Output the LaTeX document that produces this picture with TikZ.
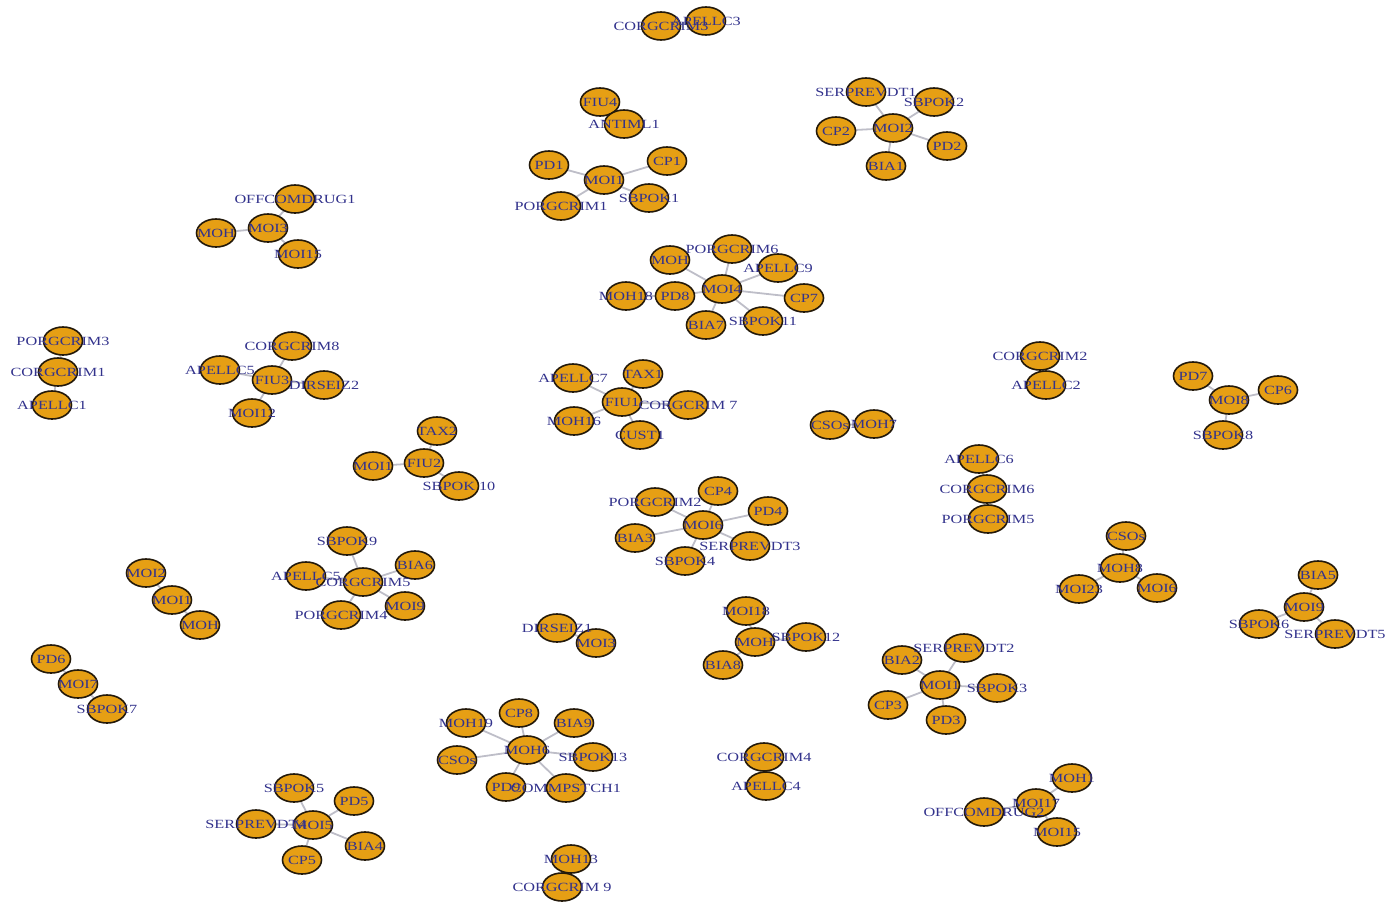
\documentclass[tikz,border=0pt]{standalone}
\usepackage{fontspec}
\usetikzlibrary{shapes.geometric}
\newfontfamily\labfam[FakeStretch=1.3]{Liberation Serif}
\definecolor{nodeor}{RGB}{230,159,20}
\definecolor{nodebd}{RGB}{35,25,10}
\definecolor{labc}{RGB}{50,50,140}
\definecolor{edgec}{RGB}{190,190,200}
\pgfdeclarelayer{bg}\pgfdeclarelayer{fg}\pgfsetlayers{bg,main,fg}
\tikzset{
  vtx/.style={ellipse, draw=nodebd, line width=1.6pt, fill=nodeor, minimum width=39pt, minimum height=28pt, inner sep=0pt},
  lab/.style={text=labc, font=\labfam\fontsize{12.5}{12.5}\selectfont, inner sep=0pt},
  edge/.style={draw=edgec, line width=1.8pt}
}
\newcommand\vx[4]{\node[vtx] (#1) at (#2,#3) {};\begin{pgfonlayer}{fg}\node[lab] at (#1.center) {#4};\end{pgfonlayer}}
\newcommand\ed[2]{\begin{pgfonlayer}{bg}\draw[edge] (#1.center) -- (#2.center);\end{pgfonlayer}}
\begin{document}
\begin{tikzpicture}[x=1pt,y=-1pt]
\path[use as bounding box] (0,0) rectangle (1388,902);
% A
\vx{a1}{661}{26}{CORGCRIM3}\vx{a2}{706}{21}{APELLC3}\ed{a1}{a2}
% B
\vx{b1}{600}{102}{FIU4}\vx{b2}{624}{124}{ANTIML1}\ed{b1}{b2}
% C
\vx{c0}{604}{180}{MOI1}\vx{c1}{549}{165}{PD1}\vx{c2}{667}{161}{CP1}\vx{c3}{649}{198}{SBPOK1}\vx{c4}{561}{206}{PORGCRIM1}
\ed{c0}{c1}\ed{c0}{c2}\ed{c0}{c3}\ed{c0}{c4}
% D
\vx{d0}{893}{128}{MOI2}\vx{d1}{866}{92}{SERPREVDT1}\vx{d2}{934}{102}{SBPOK2}\vx{d3}{836}{131}{CP2}\vx{d4}{947}{146}{PD2}\vx{d5}{886}{166}{BIA1}
\ed{d0}{d1}\ed{d0}{d2}\ed{d0}{d3}\ed{d0}{d4}\ed{d0}{d5}
% E
\vx{e0}{268}{228}{MOI3}\vx{e1}{295}{199}{OFFCOMDRUG1}\vx{e2}{216}{233}{MOH}\vx{e3}{298}{254}{MOI15}
\ed{e0}{e1}\ed{e0}{e2}\ed{e0}{e3}
% F
\vx{f0}{722}{289}{MOI4}\vx{f1}{732}{249}{PORGCRIM6}\vx{f2}{778}{268}{APELLC9}\vx{f3}{670}{260}{MOH}\vx{f4}{804}{298}{CP7}\vx{f5}{675}{296}{PD8}\vx{f6}{626}{296}{MOH18}\vx{f7}{706}{325}{BIA7}\vx{f8}{763}{321}{SBPOK11}
\ed{f0}{f1}\ed{f0}{f2}\ed{f0}{f3}\ed{f0}{f4}\ed{f0}{f5}\ed{f5}{f6}\ed{f0}{f7}\ed{f0}{f8}
% G
\vx{g1}{63}{341}{PORGCRIM3}\vx{g2}{58}{372}{CORGCRIM1}\vx{g3}{52}{405}{APELLC1}
\ed{g1}{g2}\ed{g2}{g3}
% H
\vx{h0}{272}{380}{FIU3}\vx{h1}{292}{346}{CORGCRIM8}\vx{h2}{220}{370}{APELLC5}\vx{h3}{324}{385}{DIRSEIZ2}\vx{h4}{252}{413}{MOI12}
\ed{h0}{h1}\ed{h0}{h2}\ed{h0}{h3}\ed{h0}{h4}
% I
\vx{i0}{622}{402}{FIU1}\vx{i1}{573}{378}{APELLC7}\vx{i2}{643}{374}{TAX1}\vx{i3}{688}{405}{CORGCRIM 7}\vx{i4}{574}{421}{MOH16}\vx{i5}{640}{435}{CUST1}
\ed{i0}{i1}\ed{i0}{i2}\ed{i0}{i3}\ed{i0}{i4}\ed{i0}{i5}
% J
\vx{j0}{424}{463}{FIU2}\vx{j1}{437}{431}{TAX2}\vx{j2}{373}{466}{MOI1}\vx{j3}{459}{486}{SBPOK 10}
\ed{j0}{j1}\ed{j0}{j2}\ed{j0}{j3}
% K
\vx{k1}{830}{425}{CSOs}\vx{k2}{874}{424}{MOH7}\ed{k1}{k2}
% L
\vx{l1}{1040}{356}{CORGCRIM2}\vx{l2}{1046}{385}{APELLC2}\ed{l1}{l2}
% M
\vx{m0}{1229}{400}{MOI8}\vx{m1}{1193}{376}{PD7}\vx{m2}{1278}{390}{CP6}\vx{m3}{1223}{435}{SBPOK8}
\ed{m0}{m1}\ed{m0}{m2}\ed{m0}{m3}
% N
\vx{n1}{979}{459}{APELLC6}\vx{n2}{987}{489}{CORGCRIM6}\vx{n3}{988}{519}{PORGCRIM5}
\ed{n1}{n2}\ed{n2}{n3}
% O
\vx{o0}{703}{525}{MOI6}\vx{o1}{655}{502}{PORGCRIM2}\vx{o2}{718}{491}{CP4}\vx{o3}{768}{511}{PD4}\vx{o4}{635}{538}{BIA3}\vx{o5}{750}{546}{SERPREVDT3}\vx{o6}{685}{561}{SBPOK4}
\ed{o0}{o1}\ed{o0}{o2}\ed{o0}{o3}\ed{o0}{o4}\ed{o0}{o5}\ed{o0}{o6}
% P
\vx{p0}{1120}{568}{MOH8}\vx{p1}{1126}{536}{CSOs}\vx{p2}{1079}{589}{MOI23}\vx{p3}{1157}{588}{MOI6}
\ed{p0}{p1}\ed{p0}{p2}\ed{p0}{p3}
% Q
\vx{q0}{1304}{607}{MOI9}\vx{q1}{1318}{575}{BIA5}\vx{q2}{1259}{624}{SBPOK6}\vx{q3}{1335}{634}{SERPREVDT5}
\ed{q0}{q1}\ed{q0}{q2}\ed{q0}{q3}
% R
\vx{r1}{146}{573}{MOI2}\vx{r2}{172}{600}{MOI1}\vx{r3}{200}{625}{MOH}
\ed{r1}{r2}\ed{r2}{r3}
% S
\vx{s0}{363}{582}{CORGCRIM5}\vx{s1}{347}{541}{SBPOK9}\vx{s2}{415}{565}{BIA6}\vx{s3}{306}{576}{APELLC5}\vx{s4}{405}{606}{MOI9}\vx{s5}{341}{615}{PORGCRIM4}
\ed{s0}{s1}\ed{s0}{s2}\ed{s0}{s3}\ed{s0}{s4}\ed{s0}{s5}
% T
\vx{t1}{557}{628}{DIRSEIZ1}\vx{t2}{596}{643}{MOI3}\ed{t1}{t2}
% U
\vx{u0}{755}{642}{MOH}\vx{u1}{746}{611}{MOI18}\vx{u2}{806}{637}{SBPOK12}\vx{u3}{723}{665}{BIA8}
\ed{u0}{u1}\ed{u0}{u2}\ed{u0}{u3}
% V
\vx{v0}{940}{685}{MOI1}\vx{v1}{902}{660}{BIA2}\vx{v2}{964}{648}{SERPREVDT2}\vx{v3}{997}{688}{SBPOK3}\vx{v4}{888}{705}{CP3}\vx{v5}{946}{720}{PD3}
\ed{v0}{v1}\ed{v0}{v2}\ed{v0}{v3}\ed{v0}{v4}\ed{v0}{v5}
% W
\vx{w1}{51}{659}{PD6}\vx{w2}{78}{684}{MOI7}\vx{w3}{107}{709}{SBPOK7}
\ed{w1}{w2}\ed{w2}{w3}
% X
\vx{x0}{527}{750}{MOH6}\vx{x1}{466}{723}{MOH19}\vx{x2}{519}{713}{CP8}\vx{x3}{574}{723}{BIA9}\vx{x4}{457}{760}{CSOs}\vx{x5}{593}{757}{SBPOK13}\vx{x6}{506}{787}{PD9}\vx{x7}{566}{788}{COMMPSTCH1}
\ed{x0}{x1}\ed{x0}{x2}\ed{x0}{x3}\ed{x0}{x4}\ed{x0}{x5}\ed{x0}{x6}\ed{x0}{x7}
% Y
\vx{y1}{764}{757}{CORGCRIM4}\vx{y2}{766}{786}{APELLC4}\ed{y1}{y2}
% Z
\vx{z0}{313}{825}{MOI5}\vx{z1}{294}{788}{SBPOK5}\vx{z2}{354}{801}{PD5}\vx{z3}{256}{824}{SERPREVDT4}\vx{z4}{302}{860}{CP5}\vx{z5}{365}{846}{BIA4}
\ed{z0}{z1}\ed{z0}{z2}\ed{z0}{z3}\ed{z0}{z4}\ed{z0}{z5}
% AA
\vx{aa1}{571}{859}{MOH13}\vx{aa2}{562}{887}{CORGCRIM 9}\ed{aa1}{aa2}
% AB
\vx{ab0}{1036}{803}{MOI17}\vx{ab1}{1072}{778}{MOH1}\vx{ab2}{984}{812}{OFFCOMDRUG2}\vx{ab3}{1057}{832}{MOI15}
\ed{ab0}{ab1}\ed{ab0}{ab2}\ed{ab0}{ab3}
\end{tikzpicture}
\end{document}
